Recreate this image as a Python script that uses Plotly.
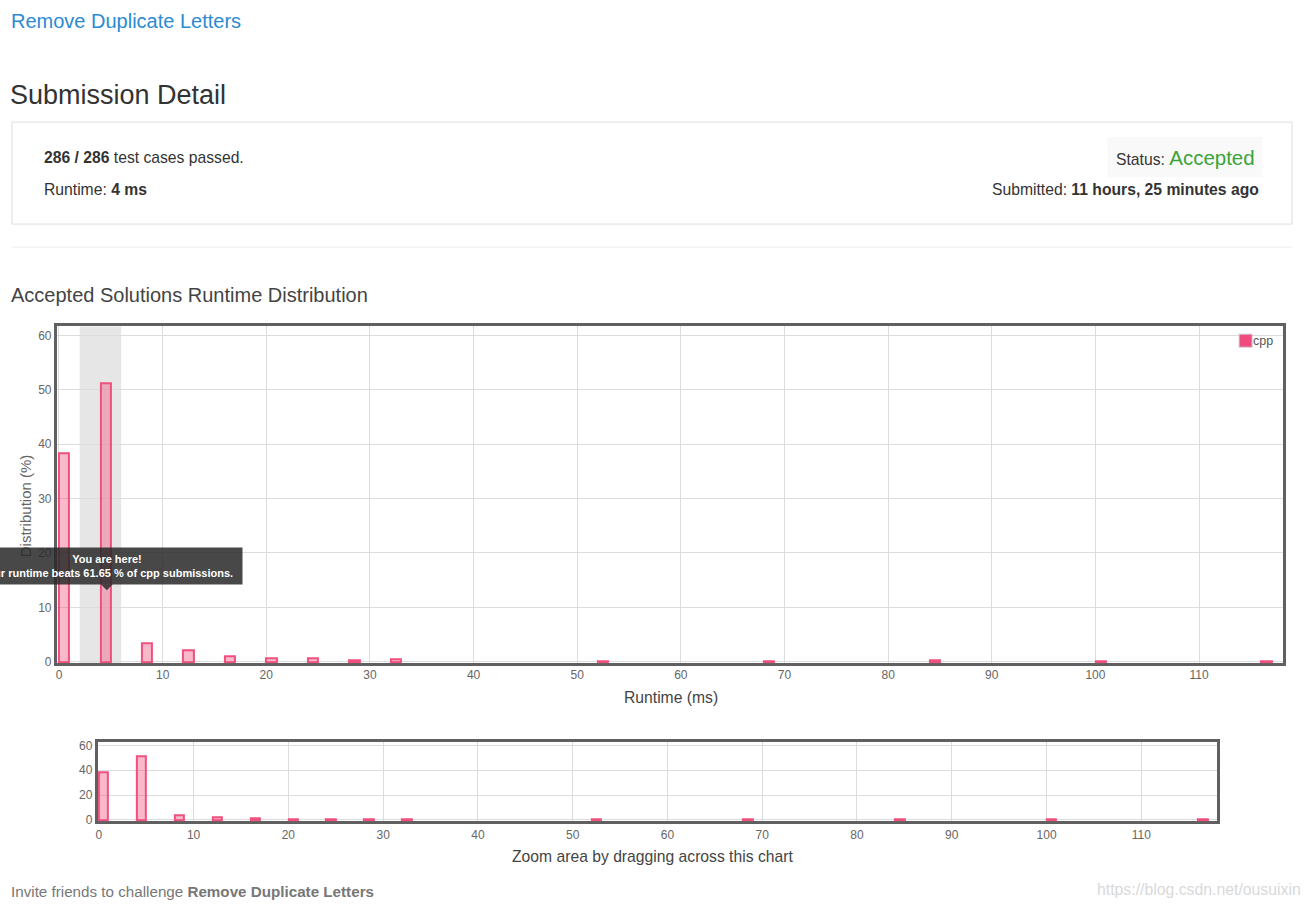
import plotly.graph_objects as go

# ---- data ----
runtimes_ms = [0, 4, 8, 12, 16, 20, 24, 28, 32, 52, 68, 84, 100, 116]
distribution_pct = [38.35, 51.3, 3.4, 2.2, 1.0, 0.6, 0.7, 0.2, 0.4, 0.15, 0.15, 0.35, 0.15, 0.15]
x_ticks = [0, 10, 20, 30, 40, 50, 60, 70, 80, 90, 100, 110]
y_ticks_main = [0, 10, 20, 30, 40, 50, 60]
y_ticks_nav = [0, 20, 40, 60]
my_runtime_band = [2, 6]
language = "cpp"
beats_pct = 61.65

W, H = 1308, 908
FONT = "Liberation Sans, Arial, sans-serif"

# the captured picture is slightly squeezed vertically; compensate
A_OFF, S_Y = 4.0, 0.9885


def X(px):
    return px / W


def Y(py):
    return 1 - ((py - A_OFF) / S_Y) / H


BAR_FILL = "rgba(240,80,126,0.4)"
BAR_LINE = "#f0507e"

fig = go.Figure()

for xa, ya in (("x", "y"), ("x2", "y2")):
    fig.add_trace(go.Bar(
        x=runtimes_ms, y=distribution_pct, width=1, offset=0,
        marker=dict(color=BAR_FILL, line=dict(color=BAR_LINE, width=2)),
        xaxis=xa, yaxis=ya, showlegend=False, name=language,
        hoverinfo="skip",
    ))

axis_common = dict(
    showline=True, mirror=True, linecolor="#606060", linewidth=3,
    showgrid=True, gridcolor="#dcdcdc", gridwidth=1, zeroline=False,
    ticks="", tickfont=dict(family=FONT, size=12, color="#666"),
    fixedrange=True, layer="below traces",
)

fig.update_layout(
    width=W, height=H, autosize=False,
    margin=dict(l=0, r=0, t=0, b=0, pad=0),
    paper_bgcolor="white", plot_bgcolor="white",
    bargap=0,
    font=dict(family=FONT, color="#333"),
    xaxis=dict(domain=[X(55), X(1283)], range=[-0.2, 118.1], anchor="y",
               tickvals=x_ticks, ticklabelstandoff=-2, **axis_common),
    yaxis=dict(domain=[Y(663), Y(326)], range=[-0.3, 61.7], anchor="x",
               tickvals=y_ticks_main, **axis_common),
    xaxis2=dict(domain=[X(96), X(1217)], range=[-0.1, 118.0], anchor="y2",
                tickvals=x_ticks, **axis_common),
    yaxis2=dict(domain=[Y(821), Y(742)], range=[-1.2, 62.5], anchor="x2",
                tickvals=y_ticks_nav, **axis_common),
)

shapes = [
    # submission detail box
    dict(type="rect", xref="paper", yref="paper", x0=X(10), x1=X(1292), y0=Y(224), y1=Y(122),
         line=dict(color="#dddddd", width=1), fillcolor="white", layer="below"),
    # status background
    dict(type="rect", xref="paper", yref="paper", x0=X(1107), x1=X(1262), y0=Y(177), y1=Y(137),
         line=dict(width=0), fillcolor="#f9f9f9", layer="below"),
    # separator
    dict(type="line", xref="paper", yref="paper", x0=X(10), x1=X(1292), y0=Y(247), y1=Y(247),
         line=dict(color="#eeeeee", width=1)),
    # my runtime band
    dict(type="rect", xref="x", yref="y", x0=my_runtime_band[0], x1=my_runtime_band[1],
         y0=-0.3, y1=61.7, line=dict(width=0), fillcolor="#e6e6e6", layer="below"),
    # legend swatch
    dict(type="rect", xref="paper", yref="paper", x0=X(1239), x1=X(1252), y0=Y(347), y1=Y(334),
         line=dict(color="#cccccc", width=1), fillcolor="#f04b7f", layer="above"),
    # tooltip arrow
    dict(type="path", xref="paper", yref="paper",
         path=f"M {X(99)} {Y(584)} L {X(111)} {Y(584)} L {X(105)} {Y(590)} Z",
         line=dict(width=0), fillcolor="rgba(50,50,50,0.9)", layer="above"),
]

annotations = [
    dict(text="Remove Duplicate Letters", x=X(7), y=Y(21), font=dict(size=20, color="#2a8bd2")),
    dict(text="Submission Detail", x=X(6), y=Y(95), font=dict(size=27, color="#333")),
    dict(text="<b>286 / 286</b> test cases passed.", x=X(40), y=Y(157), font=dict(size=15.7, color="#333")),
    dict(text="Runtime: <b>4 ms</b>", x=X(40), y=Y(189), font=dict(size=15.7, color="#333")),
    dict(text="Status: <span style='font-size:20.5px;color:#3aa33a'>Accepted</span>",
         x=X(1257), y=Y(157), xanchor="right", font=dict(size=15.7, color="#333")),
    dict(text="Submitted: <b>11 hours, 25 minutes ago</b>", x=X(1261), y=Y(189), xanchor="right",
         font=dict(size=15.7, color="#333")),
    dict(text="Accepted Solutions Runtime Distribution", x=X(7), y=Y(295),
         font=dict(size=20, color="#444")),
    dict(text=language, x=X(1251), y=Y(341), font=dict(size=12.5, color="#555")),
    dict(text="Runtime (ms)", x=X(670), y=Y(697), xanchor="center", font=dict(size=15.7, color="#444")),
    dict(text="Zoom area by dragging across this chart", x=X(651), y=Y(856), xanchor="center",
         font=dict(size=15.7, color="#444")),
    dict(text="Invite friends to challenge <b>Remove Duplicate Letters</b>", x=X(7), y=Y(891),
         font=dict(size=15.2, color="#777")),
    dict(text="https://blog.csdn.net/ousuixin", x=X(1303), y=Y(889), xanchor="right",
         font=dict(size=15.8, color="#d9d9d9")),
    dict(text="Distribution (%)", x=X(23), y=Y(505), xanchor="center", textangle=-90,
         font=dict(size=15, color="#666")),
    dict(text=f"<b>You are here!<br>Your runtime beats {beats_pct} % of {language} submissions.</b>",
         x=X(105), y=Y(566), xanchor="center", align="center", width=262, height=28, borderpad=4,
         bgcolor="rgba(40,40,40,0.85)", font=dict(size=11, color="white")),
]
for a in annotations:
    a.setdefault("xref", "paper")
    a.setdefault("yref", "paper")
    a.setdefault("xanchor", "left")
    a.setdefault("yanchor", "middle")
    a.setdefault("showarrow", False)

fig.update_layout(shapes=shapes, annotations=annotations)

fig.write_html("out.html", config={"displayModeBar": False})
